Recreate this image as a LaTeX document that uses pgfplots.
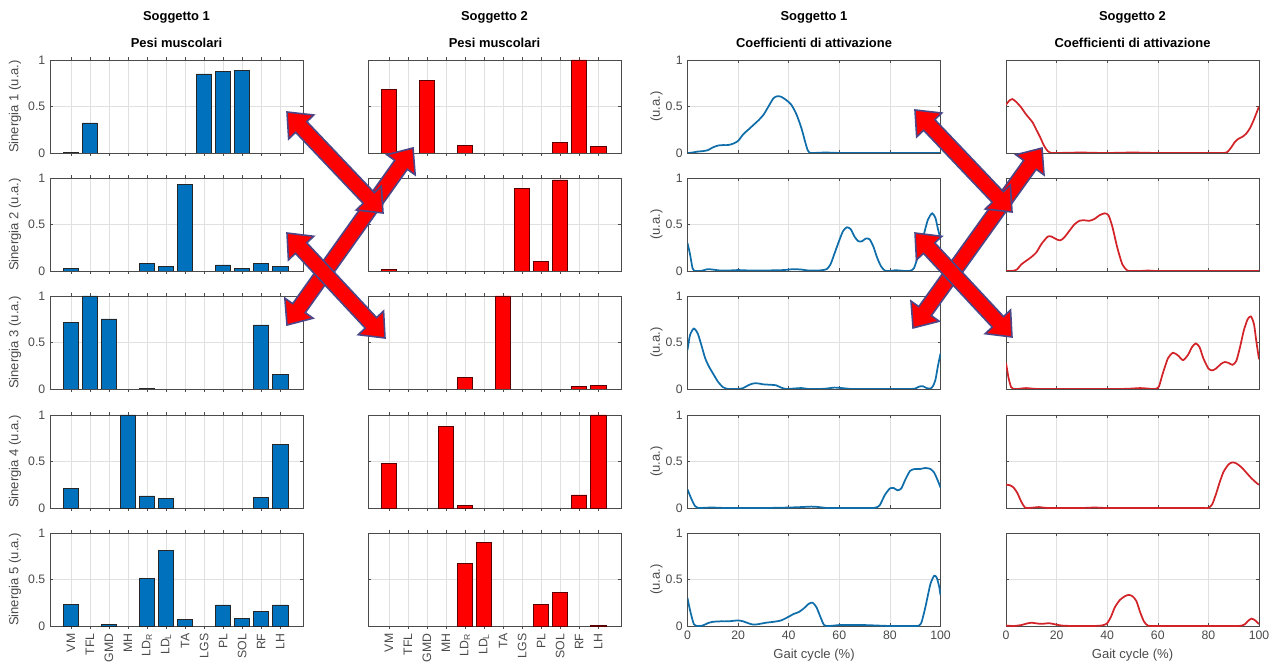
\documentclass[border=0pt]{standalone}
\usepackage{pgfplots}
\pgfplotsset{compat=1.18}
\usepackage{fontspec}
\setmainfont{Liberation Sans}
\usetikzlibrary{shapes.arrows}

\definecolor{axc}{RGB}{75,75,75}
\definecolor{barblue}{RGB}{0,114,189}
\definecolor{lineblue}{RGB}{15,110,170}
\definecolor{barred}{RGB}{255,0,0}
\definecolor{barrededge}{RGB}{90,0,0}
\definecolor{linered}{RGB}{210,35,40}
\definecolor{arrowedge}{RGB}{75,70,135}

\newcommand\tickfont{\fontsize{9.2}{10}\selectfont}
\newcommand\labfont{\fontsize{9.8}{11}\selectfont}
\newcommand\titfont{\fontsize{9.7}{11}\selectfont\bfseries}

\pgfplotsset{
  common/.style={
    scale only axis, width=189.75pt, height=69.75pt, anchor=north west,
    ymin=0, ymax=1, ytick={0,0.5,1},
    tick align=inside, tick pos=both, major tick length=2.2pt,
    axis line style={draw=axc, line width=0.5pt},
    every tick/.style={draw=axc, line width=0.4pt},
    grid=major, major grid style={draw=black!12, line width=0.4pt},
    tick label style={font=\tickfont, text=axc},
    /pgf/number format/assume math mode=true,
    label style={font=\labfont, text=axc},
    title style={font=\titfont},
  },
  barax/.style={common, xmin=-0.1, xmax=13.2, xtick={1,...,12}, ybar, bar width=0.8},
  curveax/.style={common, xmin=0, xmax=100, xtick={0,20,...,100}},
  noxl/.style={xticklabel=\empty},
  noyl/.style={yticklabel=\empty},
  ylab1/.style={ylabel={#1}, ylabel style={at={(axis description cs:-0.138,0.5)}, anchor=center}},
  ylab3/.style={ylabel={(u.a.)}, ylabel style={at={(axis description cs:-0.123,0.5)}, anchor=center}},
  musclelabels/.style={xticklabels={VM,TFL,GMD,MH,LD\textsubscript{R},LD\textsubscript{L},TA,LGS,PL,SOL,RF,LH},
    xticklabel style={rotate=90, anchor=east, font=\tickfont}},
  bluebar/.style={fill=barblue, draw=black!85, line width=0.4pt},
  redbar/.style={fill=barred, draw=barrededge, line width=0.4pt},
  bluecurve/.style={lineblue, line width=1.3pt, smooth, tension=0.4, mark=none},
  redcurve/.style={linered, line width=1.3pt, smooth, tension=0.4, mark=none},
}

\begin{document}
\begin{tikzpicture}
\path[use as bounding box] (0pt,0pt) rectangle (958.5pt,-499.5pt);

% ================= Column 1: Soggetto 1, Pesi muscolari =================
\begin{axis}[barax, noxl, ylab1={Sinergia 1 (u.a.)}, title={Pesi muscolari}, at={(37.5pt,-45pt)}]
\addplot[bluebar] coordinates {(1,0.01)(2,0.325)(8,0.85)(9,0.875)(10,0.885)};
\end{axis}
\begin{axis}[barax, noxl, ylab1={Sinergia 2 (u.a.)}, at={(37.5pt,-133.5pt)}]
\addplot[bluebar] coordinates {(1,0.025)(5,0.08)(6,0.05)(7,0.935)(9,0.065)(10,0.03)(11,0.085)(12,0.05)};
\end{axis}
\begin{axis}[barax, noxl, ylab1={Sinergia 3 (u.a.)}, at={(37.5pt,-222pt)}]
\addplot[bluebar] coordinates {(1,0.72)(2,1.0)(3,0.755)(5,0.01)(11,0.69)(12,0.155)};
\end{axis}
\begin{axis}[barax, noxl, ylab1={Sinergia 4 (u.a.)}, at={(37.5pt,-311.25pt)}]
\addplot[bluebar] coordinates {(1,0.215)(4,1.0)(5,0.13)(6,0.107)(11,0.115)(12,0.68)};
\end{axis}
\begin{axis}[barax, musclelabels, ylab1={Sinergia 5 (u.a.)}, at={(37.5pt,-399.75pt)}]
\addplot[bluebar] coordinates {(1,0.235)(3,0.018)(5,0.51)(6,0.81)(7,0.068)(9,0.227)(10,0.083)(11,0.155)(12,0.227)};
\end{axis}

% ================= Column 2: Soggetto 2, Pesi muscolari =================
\begin{axis}[barax, noxl, noyl, title={Pesi muscolari}, at={(276pt,-45pt)}]
\addplot[redbar] coordinates {(1,0.686)(3,0.78)(5,0.08)(10,0.11)(11,1.0)(12,0.075)};
\end{axis}
\begin{axis}[barax, noxl, noyl, at={(276pt,-133.5pt)}]
\addplot[redbar] coordinates {(1,0.015)(8,0.89)(9,0.105)(10,0.98)};
\end{axis}
\begin{axis}[barax, noxl, noyl, at={(276pt,-222pt)}]
\addplot[redbar] coordinates {(5,0.125)(7,1.0)(11,0.025)(12,0.04)};
\end{axis}
\begin{axis}[barax, noxl, noyl, at={(276pt,-311.25pt)}]
\addplot[redbar] coordinates {(1,0.48)(4,0.875)(5,0.03)(11,0.14)(12,1.0)};
\end{axis}
\begin{axis}[barax, musclelabels, noyl, at={(276pt,-399.75pt)}]
\addplot[redbar] coordinates {(5,0.67)(6,0.895)(9,0.235)(10,0.36)(12,0.01)};
\end{axis}

% ================= Column 3: Soggetto 1, Coefficienti =================
\begin{axis}[curveax, noxl, ylab3, title={Coefficienti di attivazione}, at={(515.625pt,-45pt)}]
\addplot[bluecurve] coordinates {(0,0)(2,0.005)(4,0.015)(6,0.02)(8,0.03)(10,0.06)(12,0.08)(14,0.085)(16,0.085)(18,0.1)(20,0.13)(22,0.2)(24,0.25)(26,0.3)(28,0.35)(30,0.41)(32,0.5)(34,0.59)(35.5,0.61)(37,0.605)(39,0.57)(41,0.52)(43,0.42)(45,0.27)(46.5,0.12)(47.5,0.03)(48.5,0)(50,0)(52,0.003)(55,0.005)(58,0.002)(62,0)(70,0)(80,0)(90,0)(100,0)};
\end{axis}
\begin{axis}[curveax, noxl, ylab3, at={(515.625pt,-133.5pt)}]
\addplot[bluecurve] coordinates {(0,0.3)(1,0.18)(2,0.03)(3,0)(4.5,0)(6,0.005)(8,0.02)(10,0.015)(13,0.005)(16,0.005)(20,0.01)(25,0.005)(30,0.005)(35,0.008)(38,0.01)(42,0.02)(45,0.015)(48,0.005)(51,0.005)(53,0.008)(55,0.02)(56.5,0.07)(58,0.18)(60,0.33)(61.5,0.43)(63,0.47)(64.5,0.45)(66,0.37)(67.5,0.32)(69,0.32)(70.5,0.35)(72,0.34)(73.5,0.26)(75,0.14)(76.5,0.05)(78,0.005)(80,0)(82,0.008)(84,0.005)(86,0)(88,0.002)(89.5,0.03)(91,0.15)(93,0.35)(95,0.55)(96.7,0.62)(98,0.57)(99,0.45)(100,0.35)};
\end{axis}
\begin{axis}[curveax, noxl, ylab3, at={(515.625pt,-222pt)}]
\addplot[bluecurve] coordinates {(0,0.42)(1,0.58)(2.5,0.65)(4,0.6)(5.5,0.47)(7,0.33)(8.5,0.24)(10,0.17)(12,0.08)(14,0.02)(16,0)(18,0)(20,0)(22,0.01)(24,0.04)(26,0.06)(28,0.06)(30,0.05)(33,0.045)(35,0.04)(37,0.015)(39,0)(42,0.005)(45,0.01)(48,0)(52,0)(55,0.005)(58,0.015)(61,0.01)(65,0)(70,0)(75,0)(80,0)(85,0)(88,0)(90,0.005)(91.5,0.025)(93,0.03)(94.5,0.01)(96,0.005)(97,0.03)(98,0.1)(99,0.25)(100,0.38)};
\end{axis}
\begin{axis}[curveax, noxl, ylab3, at={(515.625pt,-311.25pt)}]
\addplot[bluecurve] coordinates {(0,0.2)(1.5,0.1)(3,0.02)(4.5,0)(7,0.003)(10,0.005)(15,0)(20,0)(25,0)(30,0)(35,0.002)(40,0.005)(45,0.01)(49,0.015)(52,0.01)(55,0)(60,0)(65,0)(70,0)(73,0)(74.5,0.005)(76,0.03)(78,0.14)(80,0.21)(81.5,0.215)(83,0.19)(84.5,0.21)(86,0.3)(88,0.4)(90,0.42)(92,0.42)(94,0.43)(96,0.42)(97.5,0.38)(99,0.29)(100,0.22)};
\end{axis}
\begin{axis}[curveax, ylab3, xlabel={Gait cycle (\%)}, at={(515.625pt,-399.75pt)}]
\addplot[bluecurve] coordinates {(0,0.3)(1,0.17)(2.5,0.02)(4,0)(6,0.005)(8,0.03)(10,0.045)(13,0.05)(16,0.05)(20,0.06)(22,0.05)(24,0.03)(26,0.015)(28,0.02)(31,0.035)(34,0.045)(37,0.06)(40,0.1)(42,0.13)(44,0.15)(46,0.19)(48,0.24)(49.5,0.25)(51,0.2)(52.5,0.1)(54,0.01)(56,0)(60,0.01)(65,0.01)(70,0.01)(75,0.005)(80,0)(84,0)(88,0)(90,0)(91.5,0.005)(92.5,0.04)(94,0.2)(96,0.45)(97.5,0.54)(98.5,0.52)(99.5,0.42)(100,0.33)};
\end{axis}

% ================= Column 4: Soggetto 2, Coefficienti =================
\begin{axis}[curveax, noxl, noyl, title={Coefficienti di attivazione}, at={(754.5pt,-45pt)}]
\addplot[redcurve] coordinates {(0,0.52)(1.2,0.56)(2.5,0.58)(4,0.55)(6,0.49)(7.5,0.43)(9,0.38)(10.5,0.33)(12,0.25)(13.5,0.17)(15,0.08)(16.5,0.02)(18,0)(20,0)(25,0.003)(30,0.005)(35,0.002)(40,0)(50,0.005)(60,0)(70,0)(80,0)(84,0)(86,0)(87.5,0.01)(89,0.06)(90.5,0.12)(92,0.155)(93.5,0.175)(95,0.21)(96.5,0.27)(98,0.36)(99,0.43)(100,0.5)};
\end{axis}
\begin{axis}[curveax, noxl, noyl, at={(754.5pt,-133.5pt)}]
\addplot[redcurve] coordinates {(0,0)(1.5,0)(3,0.003)(4.5,0.02)(6,0.07)(8,0.11)(10,0.15)(12,0.2)(14,0.29)(16.5,0.37)(18,0.37)(20,0.34)(21.5,0.33)(23,0.36)(25,0.43)(27,0.5)(29,0.54)(31,0.545)(33,0.54)(35,0.56)(37,0.6)(39,0.62)(40.5,0.6)(42,0.48)(44,0.25)(46,0.07)(48,0.005)(50,0)(53,0)(56,0.005)(60,0)(70,0)(80,0)(90,0)(100,0)};
\end{axis}
\begin{axis}[curveax, noxl, noyl, at={(754.5pt,-222pt)}]
\addplot[redcurve] coordinates {(0,0.28)(1,0.12)(2,0.02)(3,0)(4.5,0)(6,0.005)(8,0.01)(10,0.005)(13,0)(20,0)(30,0)(40,0)(45,0)(50,0.005)(53,0.01)(56,0.005)(58,0)(59.5,0.005)(60.5,0.03)(62,0.17)(64,0.33)(66,0.39)(68,0.36)(70,0.31)(72,0.37)(73.5,0.45)(75,0.49)(76.5,0.45)(78,0.33)(80,0.22)(81.5,0.2)(83,0.22)(85,0.27)(86.5,0.29)(88,0.28)(89.5,0.26)(91,0.3)(92.5,0.45)(94,0.63)(95.5,0.75)(96.8,0.78)(98,0.7)(99,0.5)(100,0.32)};
\end{axis}
\begin{axis}[curveax, noxl, noyl, at={(754.5pt,-311.25pt)}]
\addplot[redcurve] coordinates {(0,0.25)(1.5,0.245)(3,0.22)(4.5,0.16)(6,0.07)(7.5,0.005)(9,0)(11,0.005)(13,0.01)(15,0.003)(17,0)(20,0)(25,0)(30,0)(35,0.005)(40,0)(50,0)(60,0)(70,0)(75,0)(78,0)(80,0)(81.5,0.04)(83,0.15)(84.5,0.28)(86,0.39)(88,0.47)(89.5,0.49)(91,0.48)(93,0.44)(95,0.38)(97,0.32)(99,0.27)(100,0.25)};
\end{axis}
\begin{axis}[curveax, noyl, xlabel={Gait cycle (\%)}, at={(754.5pt,-399.75pt)}]
\addplot[redcurve] coordinates {(0,0.005)(3,0)(6,0.01)(8,0.025)(10,0.035)(13,0.025)(15,0.025)(17,0.03)(19,0.02)(22,0.005)(26,0)(30,0)(34,0)(37,0.003)(38.5,0.01)(40,0.03)(41.5,0.1)(43,0.2)(45,0.28)(47,0.32)(48.5,0.335)(50,0.32)(51.5,0.27)(53,0.15)(54.5,0.05)(56,0.005)(58,0)(62,0)(70,0)(80,0)(88,0)(91,0)(93,0.003)(94.5,0.02)(95.5,0.05)(97,0.08)(98.5,0.06)(100,0.02)};
\end{axis}

% ================= Column heads and arrows =================
\begin{scope}[x=0.75pt, y=-0.75pt]
\node[font=\titfont] at (176.5,17) {Soggetto 1};
\node[font=\titfont] at (494.5,17) {Soggetto 2};
\node[font=\titfont] at (814,17) {Soggetto 1};
\node[font=\titfont] at (1132.5,17) {Soggetto 2};

\tikzset{bigarrow/.style={double arrow, draw=arrowedge, fill=barred, line width=1.2pt,
  inner sep=0pt, inner ysep=5.2pt, double arrow head extend=7.2pt, double arrow tip angle=80}}
% left group
\node[bigarrow, minimum height=163pt, rotate=54.56] at (350,236.5) {};
\node[bigarrow, minimum height=104.5pt, rotate=-46.45] at (335,162.5) {};
\node[bigarrow, minimum height=107.7pt, rotate=-46.97] at (336,285.5) {};
% right group
\node[bigarrow, minimum height=166pt, rotate=54.37] at (977.5,238) {};
\node[bigarrow, minimum height=105.6pt, rotate=-46.44] at (963.5,161) {};
\node[bigarrow, minimum height=106.6pt, rotate=-47] at (963.5,285) {};
\end{scope}
\end{tikzpicture}
\end{document}
